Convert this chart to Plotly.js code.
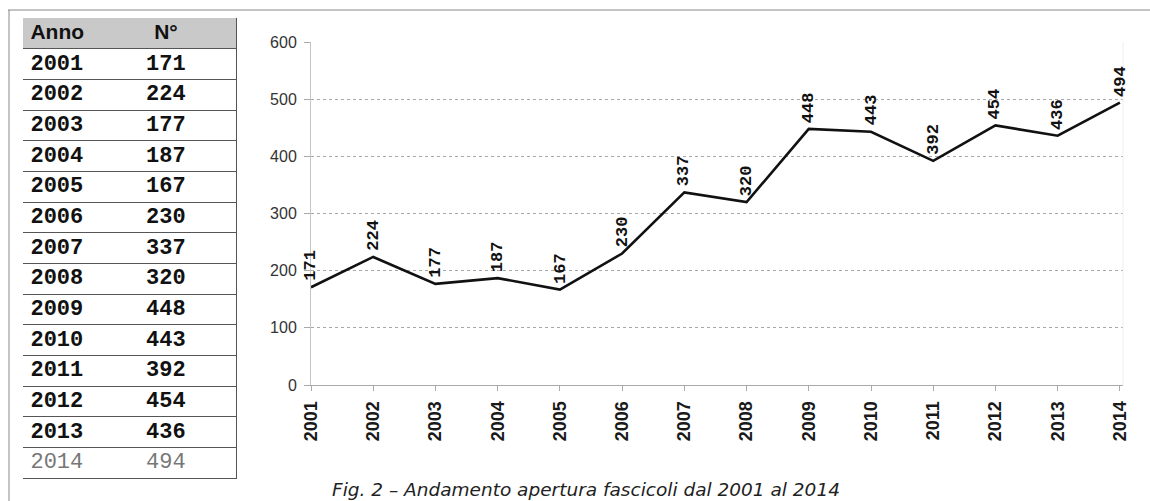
<!DOCTYPE html>
<html>
<head>
<meta charset="utf-8">
<script src="https://cdn.plot.ly/plotly-3.0.1.min.js"></script>
<style>
html,body{margin:0;padding:0;background:#fff;}
#chart{width:1150px;height:501px;}
</style>
</head>
<body>
<div id="chart"></div>
<script>
const years = ['2001','2002','2003','2004','2005','2006','2007','2008','2009','2010','2011','2012','2013','2014'];
const counts = [171,224,177,187,167,230,337,320,448,443,392,454,436,494];
const tableHeader = ['Anno','N°'];
const yTicks = [0,100,200,300,400,500,600];
const caption = 'Fig. 2 – Andamento apertura fascicoli dal 2001 al 2014';

const W = 1150, H = 501;
const px = v => v / W;
const py = v => 1 - v / H;

const last = years.length - 1;
const rowIdx = years.map((y,i) => i + 1);
const cellColors = years.map((y,i) => i === last ? '#777' : '#111');
const yearCells = years.map((y,i) => i === last ? y : '<b>' + y + '</b>');
const countCells = counts.map((v,i) => i === last ? String(v) : '<b>' + v + '</b>');

const COL1 = 0.035, COL2 = 0.671;
const monoFont = 'Liberation Mono, Courier New, monospace';
const sansFont = 'Liberation Sans, Arial, sans-serif';

/* ---- table drawn on its own axes ---- */
const tHeadAnno = {
  type: 'scatter', mode: 'text', xaxis: 'x2', yaxis: 'y2',
  x: [COL1], y: [0], text: ['<b>' + tableHeader[0] + '</b>'],
  textposition: 'middle right',
  textfont: {family: sansFont, size: 21, color: '#111'},
  hoverinfo: 'skip', showlegend: false, cliponaxis: false
};
const tHeadN = {
  type: 'scatter', mode: 'text', xaxis: 'x2', yaxis: 'y2',
  x: [COL2], y: [0], text: ['<b>' + tableHeader[1] + '</b>'],
  textposition: 'middle center',
  textfont: {family: sansFont, size: 21, color: '#111'},
  hoverinfo: 'skip', showlegend: false, cliponaxis: false
};
const tYears = {
  type: 'scatter', mode: 'text', xaxis: 'x2', yaxis: 'y2',
  x: years.map(() => COL1), y: rowIdx, text: yearCells,
  textposition: 'middle right',
  textfont: {family: monoFont, size: 22, color: cellColors},
  hoverinfo: 'skip', showlegend: false, cliponaxis: false
};
const tCounts = {
  type: 'scatter', mode: 'text', xaxis: 'x2', yaxis: 'y2',
  x: years.map(() => COL2), y: rowIdx, text: countCells,
  textposition: 'middle center',
  textfont: {family: monoFont, size: 22, color: cellColors},
  hoverinfo: 'skip', showlegend: false, cliponaxis: false
};

/* ---- line chart ---- */
const line = {
  type: 'scatter',
  mode: 'lines',
  x: years,
  y: counts,
  line: {color: '#111', width: 2.6},
  hoverinfo: 'x+y',
  showlegend: false
};

const labels = years.map((y,i) => ({
  x: i, y: counts[i], xref: 'x', yref: 'y',
  text: '<b>' + counts[i] + '</b>',
  textangle: -90,
  showarrow: false,
  xanchor: 'center', yanchor: 'bottom',
  yshift: 4,
  font: {family: monoFont, size: 17, color: '#111'}
}));

labels.push({
  xref: 'paper', yref: 'paper',
  x: px(586), y: py(489),
  text: '<i>' + caption + '</i>',
  showarrow: false,
  xanchor: 'center', yanchor: 'middle',
  font: {family: 'DejaVu Sans, sans-serif', size: 18.5, color: '#222'}
});

const boundaries = [];
for (let i = 0; i <= years.length; i++) boundaries.push(i + 0.5);

const layout = {
  width: W, height: H,
  margin: {l: 0, r: 0, t: 0, b: 0},
  paper_bgcolor: '#fff',
  plot_bgcolor: 'rgba(0,0,0,0)',
  showlegend: false,
  xaxis: {
    type: 'category',
    domain: [px(311), px(1123)],
    range: [0, 13.05],
    showgrid: false,
    showline: true,
    linecolor: '#aaa',
    linewidth: 1,
    ticks: 'outside',
    ticklen: 5,
    tickcolor: '#aaa',
    tickangle: -90,
    ticklabelstandoff: 3,
    tickfont: {family: sansFont, size: 18, color: '#1a1a1a', weight: 'bold'},
    zeroline: false,
    fixedrange: true
  },
  yaxis: {
    domain: [py(385), py(42)],
    range: [0, 600],
    tickvals: yTicks,
    ticktext: yTicks.map(String),
    showgrid: true,
    gridcolor: '#a8a8a8',
    griddash: 'dot',
    gridwidth: 1,
    showline: true,
    linecolor: '#c4c4c4',
    linewidth: 1,
    ticks: 'outside',
    ticklen: 6,
    tickcolor: '#aaa',
    ticklabelstandoff: 4,
    tickfont: {family: sansFont, size: 16, color: '#333'},
    zeroline: false,
    fixedrange: true
  },
  xaxis2: {
    domain: [px(23), px(236)],
    range: [0, 1],
    anchor: 'y2',
    showgrid: false,
    showticklabels: false,
    ticks: '',
    zeroline: false,
    showline: true,
    linecolor: '#555',
    linewidth: 1,
    fixedrange: true
  },
  yaxis2: {
    domain: [py(478), py(18)],
    range: [years.length + 0.5, -0.5],
    anchor: 'x2',
    side: 'right',
    tickvals: boundaries,
    showticklabels: false,
    ticks: '',
    showgrid: true,
    gridcolor: '#555',
    gridwidth: 1,
    zeroline: false,
    showline: true,
    linecolor: '#555',
    linewidth: 1,
    fixedrange: true
  },
  annotations: labels,
  shapes: [
    {type: 'rect', xref: 'x2', yref: 'y2', x0: 0, x1: 1, y0: -0.5, y1: 0.5, fillcolor: '#c9c9c9', line: {width: 0}, layer: 'below'},
    {type: 'line', xref: 'paper', yref: 'paper', x0: px(8), x1: 1, y0: py(10), y1: py(10), line: {color: '#888', width: 1}},
    {type: 'line', xref: 'paper', yref: 'paper', x0: px(9), x1: px(9), y0: py(10), y1: 0, line: {color: '#888', width: 1}},
    {type: 'line', xref: 'paper', yref: 'paper', x0: px(1123), x1: px(1123), y0: py(385), y1: py(42), line: {color: '#eee', width: 1}}
  ]
};

Plotly.newPlot('chart', [line, tHeadAnno, tHeadN, tYears, tCounts], layout, {displayModeBar: false, staticPlot: true});
</script>
</body>
</html>
